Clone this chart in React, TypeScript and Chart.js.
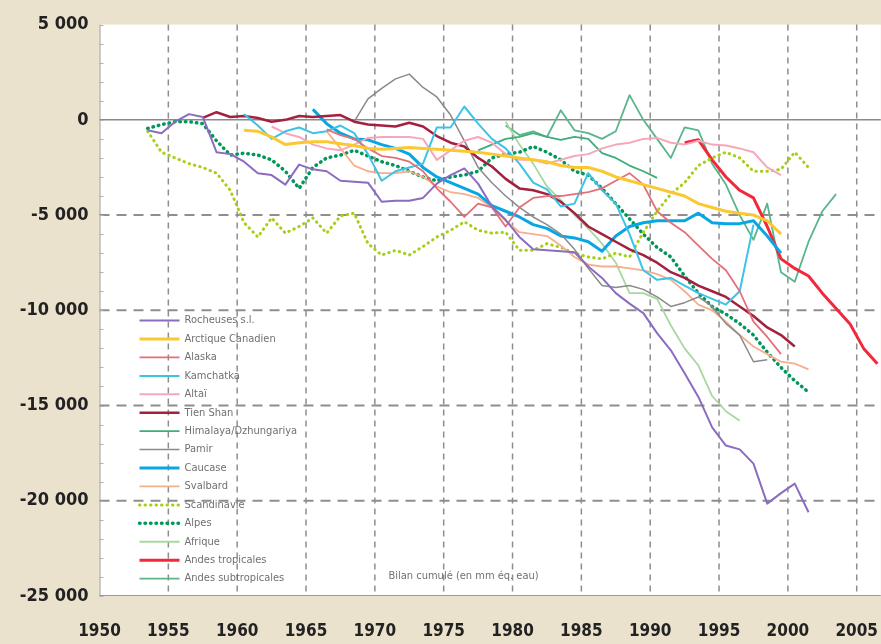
import { useEffect, useRef } from 'react';
import { Chart, registerables } from 'chart.js';

Chart.register(...registerables);

// ---------- DATA (cumulative mass balance, mm w.e.) ----------
const regionNames = [
  'Rocheuses s.l.',
  'Arctique Canadien',
  'Alaska',
  'Kamchatka',
  'Altaï',
  'Tien Shan',
  'Himalaya/Dzhungariya',
  'Pamir',
  'Caucase',
  'Svalbard',
  'Scandinavie',
  'Alpes',
  'Afrique',
  'Andes tropicales',
  'Andes subtropicales',
];

const startYears = [1953, 1960, 1966, 1960, 1962, 1957, 1977, 1968, 1965, 1966, 1953, 1953, 1979, 1992, 1979];

const rocheuses = [
  -550, -700, -100, 300, 150, -1700, -1800,
  -2200, -2800, -2900, -3400, -2350, -2600, -2700, -3200, -3250, -3300,
  -4300, -4250, -4250, -4100, -3350, -2900, -2550, -3350, -4550, -5250,
  -6150, -6800, -6850, -6900, -6950, -7700, -8300, -9100, -9650, -10150,
  -11200, -12100, -13300, -14550, -16150, -17100, -17300, -18050, -20150, -19600,
  -19100, -20600,
];
const arctiqueCanadien = [
  -550, -600, -900, -1300, -1200, -1150, -1150, -1250, -1350, -1500,
  -1550, -1500, -1450, -1500, -1550, -1600, -1650, -1700, -1800, -1900,
  -2000, -2100, -2200, -2400, -2500, -2500, -2700, -3000, -3200, -3400,
  -3600, -3800, -4000, -4400, -4600, -4800, -4900, -5000, -5300, -6000,
];
const alaska = [
  -500, -800, -1000, -1500,
  -1900, -2000, -2200, -2700, -3600, -4300, -5100, -4400, -4600, -5600,
  -4600, -4100, -4000, -4000, -3900, -3800, -3600, -3200, -2800, -3400,
  -4800, -5400, -5900, -6600, -7300, -7900, -9000, -10600, -11400, -12300,
];
const kamchatka = [
  300, -300, -1000, -600, -400, -700, -600, -300, -700, -1800,
  -3200, -2700, -2500, -2300, -400, -400, 700, -200, -1000, -1500,
  -2300, -3300, -3650, -4550, -4400, -2800, -3700, -4400, -6000, -7900,
  -8400, -8300, -8700, -9100, -9400, -9700, -9000, -5500,
];
const altai = [
  -350, -700, -900, -1300, -1500, -1600, -1300, -950,
  -900, -900, -900, -1000, -2100, -1600, -1100, -900, -1200, -1800,
  -2100, -2100, -2300, -2100, -1900, -1800, -1500, -1300, -1200, -1000,
  -950, -1200, -1300, -1100, -1300, -1350, -1500, -1700, -2500, -2900,
];
const tienShan = [
  100, 400, 150,
  200, 100, -100, 0, 200, 150, 200, 250, -100, -250,
  -300, -350, -150, -350, -850, -1200, -1400, -2000, -2450, -3100,
  -3600, -3700, -3900, -4300, -4900, -5600, -6000, -6400, -6800, -7100,
  -7500, -8000, -8300, -8700, -9000, -9300, -9800, -10300, -10900, -11300,
  -11900,
];
const himalaya = [
  -1600, -1300, -1000,
  -900, -700, -900, -1050, -900, -1000, -1750, -2000, -2400, -2700,
  -3050,
];
const pamir = [
  -100, 1100,
  1650, 2150, 2400, 1700, 1200, 250, -1100, -2500, -3300, -4000,
  -4600, -5100, -5500, -6000, -6800, -7800, -8700, -8800, -8700, -8900,
  -9300, -9800, -9600, -9300, -9800, -10700, -11300, -12700, -12600,
];
const caucase = [
  550, -200, -700, -1000, -1050,
  -1300, -1500, -1800, -2500, -3000, -3300, -3600, -3900, -4500, -4800,
  -5100, -5500, -5700, -6100, -6200, -6400, -6900, -6100, -5600, -5400,
  -5300, -5300, -5300, -4900, -5400, -5450, -5450, -5300, -6100, -7000,
];
const svalbard = [
  -600, -1500, -2400, -2700,
  -2800, -2800, -2700, -3000, -3500, -3800, -3900, -4100, -4600, -5300,
  -5900, -6000, -6100, -6600, -7200, -7600, -7700, -7700, -7800, -7900,
  -8100, -8400, -9000, -9700, -10000, -10600, -11300, -11900, -12300, -12700,
  -12800, -13100,
];
const scandinavie = [
  -600, -1700, -2000, -2300, -2500, -2800, -3700,
  -5400, -6150, -5150, -5950, -5600, -5150, -5950, -5050, -4900, -6500,
  -7100, -6850, -7100, -6650, -6150, -5800, -5350, -5800, -5950, -5900,
  -6850, -6850, -6500, -6700, -7000, -7200, -7300, -7000, -7200, -5900,
  -4800, -3900, -3300, -2400, -2000, -1700, -2000, -2700, -2700, -2600,
  -1700, -2500,
];
const alpes = [
  -450, -250, -100, -100, -200, -1100, -1850,
  -1750, -1850, -2100, -2700, -3600, -2500, -2000, -1850, -1600, -1900,
  -2200, -2400, -2700, -3000, -3200, -3000, -2900, -2700, -2000, -1800,
  -1700, -1400, -1700, -2100, -2700, -2900, -3600, -4400, -5200, -6000,
  -6700, -7200, -8200, -9100, -9800, -10200, -10700, -11300, -12200, -13000,
  -13700, -14300,
];
const afrique = [
  -100, -1300, -2300, -3500, -4200, -5000, -5700, -6500, -7500, -9100,
  -9100, -9400, -10800, -12000, -12900, -14500, -15300, -15800,
];
const andesTropicales = [
  -1200, -1050, -2100, -3000, -3700, -4100, -5600, -7300,
  -7800, -8200, -9100, -9900, -10700, -12000, -12800,
];
const andesSubtropicales = [
  -300, -800, -600, -900, 500, -550, -700, -1000, -600, 1300, 0,
  -1000, -2000, -400, -550, -2300, -3400, -5000, -6300, -4400, -8000,
  -8500, -6400, -4800, -3900,
];

const seriesValues = [
  rocheuses, arctiqueCanadien, alaska, kamchatka, altai, tienShan, himalaya, pamir,
  caucase, svalbard, scandinavie, alpes, afrique, andesTropicales, andesSubtropicales,
];

const xTicks = [1950, 1955, 1960, 1965, 1970, 1975, 1980, 1985, 1990, 1995, 2000, 2005];
const yTicks = [5000, 0, -5000, -10000, -15000, -20000, -25000];
const noteText = 'Bilan cumulé (en mm éq. eau)';

// ---------- STYLES ----------
const MID_YEAR = 0.5;
const BEIGE = '#ebe2cd';
const FONT = "'Liberation Sans Narrow', 'DejaVu Sans Condensed', 'Arial Narrow', sans-serif";

const lineColors = [
  '#8a6cc0', '#fcc832', '#e2707a', '#3cc3e6', '#f6a8bb', '#a3213f', '#3cae78', '#8a8a8a',
  '#0aa6e3', '#f8ae8c', '#a6cf1a', '#00975a', '#a8d8a2', '#f2283c', '#5ab48c',
];
const lineWidths = [2, 3, 1.8, 2, 2, 2.5, 1.8, 1.5, 3, 1.8, 3, 3.5, 1.8, 3, 1.8];
const dotted = [false, false, false, false, false, false, false, false, false, false, true, true, false, false, false];

const fmt = (v: number) => {
  const s = Math.abs(v);
  const body = s >= 1000 ? `${Math.floor(s / 1000)} ${String(s % 1000).padStart(3, '0')}` : String(s);
  return (v < 0 ? '-' : '') + body;
};

const customPlugin = {
  id: 'custom',
  beforeDraw(chart: any) {
    const { ctx, chartArea: a } = chart;
    ctx.save();
    ctx.fillStyle = BEIGE;
    ctx.fillRect(0, 0, chart.width, chart.height);
    ctx.fillStyle = '#ffffff';
    ctx.fillRect(a.left, a.top, a.right - a.left, a.bottom - a.top);
    ctx.restore();
  },
  beforeDatasetsDraw(chart: any) {
    const { ctx, chartArea: a, scales } = chart;
    const x = scales.x;
    const y = scales.y;
    ctx.save();
    ctx.strokeStyle = '#8e8e8e';
    ctx.lineWidth = 1.5;
    ctx.setLineDash([6, 5]);
    xTicks.forEach((t) => {
      if (t <= 1950) return;
      const px = x.getPixelForValue(t);
      ctx.beginPath();
      ctx.moveTo(px, a.top);
      ctx.lineTo(px, a.bottom);
      ctx.stroke();
    });
    ctx.lineWidth = 2;
    ctx.setLineDash([10, 7]);
    yTicks.forEach((t) => {
      if (t === 0 || t === 5000 || t === -25000) return;
      const py = y.getPixelForValue(t);
      ctx.beginPath();
      ctx.moveTo(a.left, py);
      ctx.lineTo(a.right, py);
      ctx.stroke();
    });
    ctx.setLineDash([]);
    ctx.strokeStyle = '#8a8a8a';
    ctx.lineWidth = 1.5;
    const p0 = y.getPixelForValue(0);
    ctx.beginPath();
    ctx.moveTo(a.left, p0);
    ctx.lineTo(a.right, p0);
    ctx.stroke();
    ctx.strokeStyle = '#9a9a9a';
    ctx.lineWidth = 1;
    ctx.beginPath();
    ctx.moveTo(a.left + 0.5, a.top);
    ctx.lineTo(a.left + 0.5, a.bottom);
    ctx.moveTo(a.left, a.bottom - 0.5);
    ctx.lineTo(a.right, a.bottom - 0.5);
    ctx.stroke();
    ctx.strokeStyle = '#b0b0b0';
    for (let v = -25000; v <= 5000; v += 1000) {
      const py = Math.round(y.getPixelForValue(v)) + 0.5;
      ctx.beginPath();
      ctx.moveTo(a.left, py);
      ctx.lineTo(a.left + 4, py);
      ctx.stroke();
    }
    ctx.restore();
  },
  afterDatasetsDraw(chart: any) {
    const { ctx, chartArea: a } = chart;
    ctx.save();
    chart.data.datasets.forEach((ds: any, i: number) => {
      const ly = a.top + 296 + i * 18.43;
      const x0 = a.left + 40;
      const x1 = a.left + 80;
      ctx.strokeStyle = ds.borderColor;
      ctx.lineWidth = ds.borderWidth;
      ctx.lineCap = ds.borderCapStyle || 'butt';
      ctx.setLineDash(ds.borderDash || []);
      ctx.beginPath();
      ctx.moveTo(x0, ly);
      ctx.lineTo(x1, ly);
      ctx.stroke();
      ctx.setLineDash([]);
      ctx.fillStyle = '#707070';
      ctx.font = `11px ${FONT}`;
      ctx.textBaseline = 'middle';
      ctx.textAlign = 'left';
      ctx.fillText(ds.label, x1 + 5, ly);
    });
    ctx.fillStyle = '#707070';
    ctx.font = `11px ${FONT}`;
    ctx.textBaseline = 'middle';
    ctx.fillText(noteText, a.left + 289, a.bottom - 20);
    ctx.restore();
  },
};

export default function App() {
  const ref = useRef<HTMLCanvasElement | null>(null);

  useEffect(() => {
    if (!ref.current) return;
    const datasets = regionNames.map((name, i) => ({
      label: name,
      data: seriesValues[i].map((v, k) => ({ x: startYears[i] + k + MID_YEAR, y: v })),
      borderColor: lineColors[i],
      backgroundColor: lineColors[i],
      borderWidth: lineWidths[i],
      borderDash: dotted[i] ? [0.5, 5] : [],
      borderCapStyle: dotted[i] ? 'round' : 'butt',
      borderJoinStyle: 'round',
      pointRadius: 0,
      tension: 0,
      fill: false,
    }));

    const chart = new Chart(ref.current, {
      type: 'line',
      data: { datasets } as any,
      plugins: [customPlugin],
      options: {
        animation: false,
        responsive: false,
        layout: { padding: { top: 24.6, left: 0, right: 0, bottom: 0 } },
        plugins: { legend: { display: false }, tooltip: { enabled: false } },
        scales: {
          x: {
            type: 'linear',
            min: 1950,
            max: 2006.75,
            afterFit: (s: any) => { s.height = 48; },
            afterBuildTicks: (s: any) => { s.ticks = xTicks.map((v) => ({ value: v })); },
            ticks: {
              stepSize: 5,
              includeBounds: false,
              autoSkip: false,
              maxRotation: 0,
              padding: 3,
              color: '#222222',
              font: { family: FONT, size: 17, weight: 'bold' },
              callback: (v: any) => String(v),
            },
            grid: { drawOnChartArea: false, drawTicks: true, tickLength: 22, tickColor: 'rgba(0,0,0,0)', color: 'rgba(0,0,0,0)' },
            border: { display: false },
          },
          y: {
            type: 'linear',
            min: -25000,
            max: 5000,
            afterFit: (s: any) => { s.width = 99.5; },
            afterBuildTicks: (s: any) => { s.ticks = yTicks.map((v) => ({ value: v })); },
            ticks: {
              stepSize: 5000,
              padding: 11,
              color: '#222222',
              font: { family: FONT, size: 18, weight: 'bold' },
              callback: (v: any) => fmt(Number(v)),
            },
            grid: { drawOnChartArea: false, drawTicks: false, color: 'rgba(0,0,0,0)' },
            border: { display: false },
          },
        },
      } as any,
    });
    return () => chart.destroy();
  }, []);

  return (
    <div style={{ position: 'absolute', left: 0, top: 0, width: 881, height: 644, background: BEIGE, overflow: 'hidden' }}>
      <canvas ref={ref} width={881} height={644} style={{ display: 'block' }} />
    </div>
  );
}
